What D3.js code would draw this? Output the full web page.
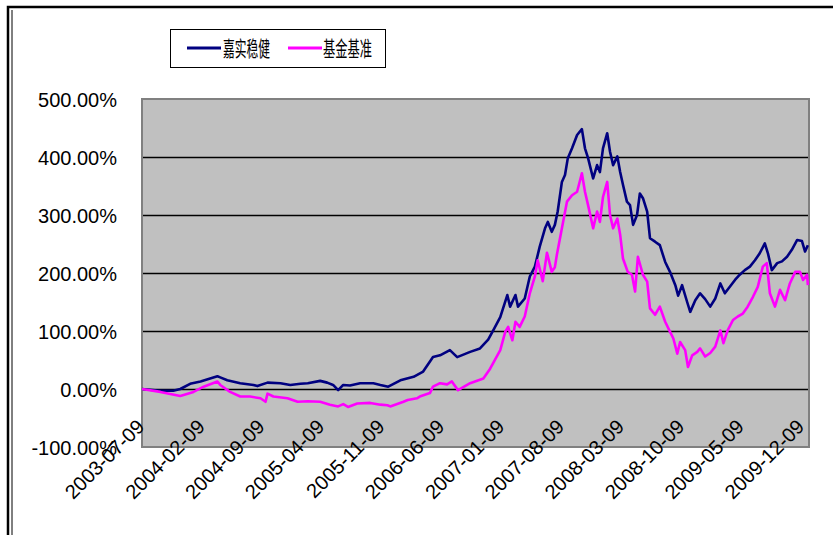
<!DOCTYPE html>
<html lang="zh">
<head>
    <meta charset="UTF-8">
    <title>嘉实稳健 vs 基金基准</title>
    <script src="https://cdnjs.cloudflare.com/ajax/libs/d3/7.8.5/d3.min.js"></script>
    <style>
        html, body { margin: 0; padding: 0; background: #fff; }
        svg { display: block; }
        .tick-label { font-family: "Liberation Sans", Arial, sans-serif; font-size: 20px; fill: #000; }
        .legend-text { font-family: "Noto Sans CJK SC", sans-serif; font-size: 21px; fill: #000; }
    </style>
</head>
<body>
<div id="chart"></div>
<script>
// series names
const seriesNames = ["嘉实稳健", "基金基准"];

// 嘉实稳健 (cumulative return, %)
const fundDates = ["2003-07-09","2003-09-12","2003-10-28","2003-11-22","2003-12-27","2004-02-02","2004-03-07","2004-04-02","2004-04-12","2004-05-07",
    "2004-06-22","2004-08-08","2004-08-22","2004-09-27","2004-11-12","2004-12-17","2005-01-22","2005-02-17","2005-04-02","2005-04-27",
    "2005-05-18","2005-06-05","2005-06-23","2005-07-17","2005-08-22","2005-10-08","2005-11-02","2005-11-30","2006-01-12","2006-02-28",
    "2006-04-03","2006-05-08","2006-06-02","2006-07-07","2006-08-02","2006-09-17","2006-10-22","2006-11-20","2006-12-08","2007-01-02",
    "2007-01-27","2007-02-06","2007-02-25","2007-03-06","2007-03-30","2007-04-17","2007-05-05","2007-05-22","2007-06-10","2007-06-20",
    "2007-07-04","2007-07-15","2007-07-25","2007-08-09","2007-08-20","2007-08-30","2007-09-14","2007-10-02","2007-10-19","2007-10-30",
    "2007-11-10","2007-11-28","2007-12-12","2007-12-22","2008-01-02","2008-01-17","2008-01-27","2008-02-07","2008-02-22","2008-03-03",
    "2008-03-13","2008-03-27","2008-04-07","2008-04-18","2008-05-02","2008-05-12","2008-05-23","2008-06-07","2008-06-17","2008-07-05",
    "2008-07-22","2008-08-10","2008-08-27","2008-09-15","2008-09-25","2008-10-09","2008-10-27","2008-11-07","2008-11-25","2008-12-12",
    "2008-12-30","2009-01-17","2009-02-04","2009-02-22","2009-03-10","2009-03-27","2009-04-15","2009-05-02","2009-05-20","2009-06-07",
    "2009-06-25","2009-07-12","2009-07-30","2009-08-10","2009-08-24","2009-09-12","2009-09-29","2009-10-17","2009-11-03","2009-11-22",
    "2009-12-09","2009-12-20","2009-12-30"];
const fundValues = [0,-3,-3,0,9,13,18,22,20,15,
    10,7,5,11,10,7,9,10,14,11,
    7,-2,7,6,10,10,7,4,15,21,
    30,55,58,67,55,64,70,85,101,124,
    162,142,162,142,156,194,211,245,277,288,
    271,283,306,357,369,398,415,438,448,415,
    398,363,386,374,415,441,409,386,401,374,
    352,323,317,283,300,337,329,306,260,254,
    248,219,202,179,161,179,150,133,153,165,
    155,142,156,182,165,176,188,197,205,211,
    222,234,251,234,205,217,220,228,240,257,
    255,237,248];

// 基金基准 (benchmark, %)
const benchDates = ["2003-07-09","2003-09-12","2003-11-22","2004-01-08","2004-02-13","2004-04-02","2004-04-12","2004-05-17","2004-06-22","2004-07-27",
    "2004-09-02","2004-09-20","2004-09-27","2004-10-18","2004-12-07","2005-01-12","2005-02-17","2005-04-02","2005-05-07","2005-06-05",
    "2005-06-23","2005-07-10","2005-08-12","2005-09-27","2005-11-02","2005-11-27","2005-12-07","2006-01-23","2006-02-07","2006-03-12",
    "2006-03-22","2006-04-27","2006-05-08","2006-06-02","2006-06-27","2006-07-14","2006-08-05","2006-09-17","2006-11-03","2006-11-27",
    "2007-01-02","2007-01-20","2007-01-30","2007-02-14","2007-02-25","2007-03-12","2007-03-30","2007-04-17","2007-05-05","2007-05-15",
    "2007-06-02","2007-06-17","2007-07-04","2007-07-15","2007-07-22","2007-08-09","2007-08-27","2007-09-14","2007-10-02","2007-10-19",
    "2007-10-30","2007-11-10","2007-11-28","2007-12-12","2007-12-22","2008-01-02","2008-01-17","2008-01-27","2008-02-07","2008-02-22",
    "2008-03-03","2008-03-13","2008-03-30","2008-04-14","2008-04-25","2008-05-05","2008-05-23","2008-06-07","2008-06-17","2008-07-05",
    "2008-07-22","2008-08-10","2008-08-27","2008-09-08","2008-09-22","2008-10-02","2008-10-20","2008-10-30","2008-11-14","2008-12-02",
    "2008-12-12","2008-12-30","2009-01-17","2009-02-04","2009-02-22","2009-03-05","2009-03-20","2009-04-08","2009-04-25","2009-05-13",
    "2009-05-30","2009-06-18","2009-07-05","2009-07-23","2009-08-06","2009-08-17","2009-09-04","2009-09-22","2009-10-10","2009-10-27",
    "2009-11-15","2009-12-02","2009-12-13","2009-12-27","2009-12-30"];
const benchValues = [0,-5,-12,-5,4,13,7,-5,-13,-13,
    -16,-22,-8,-13,-16,-22,-21,-22,-27,-30,
    -26,-31,-25,-24,-27,-28,-30,-22,-19,-16,
    -13,-7,4,10,8,13,-2,10,18,35,
    67,99,107,84,116,107,125,165,194,222,
    186,235,202,210,231,277,323,334,340,372,
    340,317,277,306,288,331,357,300,277,294,
    266,225,202,197,168,228,197,185,139,128,
    142,116,99,87,61,81,67,38,58,64,
    70,56,62,73,101,79,101,119,125,130,
    142,159,176,211,217,165,142,171,153,182,
    202,202,188,197,179];

// axis labels
const xTickLabels = ["2003-07-09","2004-02-09","2004-09-09","2005-04-09","2005-11-09","2006-06-09",
    "2007-01-09","2007-08-09","2008-03-09","2008-10-09","2009-05-09","2009-12-09"];
const yTicks = [-100, 0, 100, 200, 300, 400, 500];

const W = 833, H = 535;
const plot = { left: 142, top: 99, right: 809, bottom: 447 };
const parse = d3.timeParse("%Y-%m-%d");

const svg = d3.select("#chart").append("svg")
    .attr("width", W).attr("height", H);

// chart frame (double border on the left/top, cut at the right/bottom)
svg.append("rect")
    .attr("x", 8).attr("y", 7).attr("width", W + 10).attr("height", H + 10)
    .attr("fill", "#fff").attr("stroke", "#000").attr("stroke-width", 2.5);
svg.append("line")
    .attr("x1", 12).attr("x2", 12).attr("y1", 10).attr("y2", H)
    .attr("stroke", "#000").attr("stroke-width", 1);

const x = d3.scaleTime()
    .domain([parse("2003-07-09"), parse("2010-01-03")])
    .range([plot.left, plot.right]);
const y = d3.scaleLinear()
    .domain([-100, 500])
    .range([plot.bottom, plot.top]);

// plot area
svg.append("rect")
    .attr("x", plot.left).attr("y", plot.top)
    .attr("width", plot.right - plot.left).attr("height", plot.bottom - plot.top)
    .attr("fill", "#c0c0c0");

// gridlines
svg.append("g")
    .attr("transform", `translate(${plot.left},0)`)
    .call(d3.axisLeft(y).tickValues(yTicks.filter(d => d > -100 && d < 500))
        .tickSize(-(plot.right - plot.left)).tickFormat(""))
    .call(g => g.select(".domain").remove())
    .call(g => g.selectAll("line").attr("stroke", "#000").attr("stroke-width", 1.3));

// plot border
svg.append("rect")
    .attr("x", plot.left).attr("y", plot.top)
    .attr("width", plot.right - plot.left).attr("height", plot.bottom - plot.top)
    .attr("fill", "none").attr("stroke", "#808080").attr("stroke-width", 2);

// y axis labels
svg.append("g")
    .attr("transform", "translate(117,0)")
    .call(d3.axisLeft(y).tickValues(yTicks).tickSize(0).tickPadding(0)
        .tickFormat(d => d.toFixed(2) + "%"))
    .call(g => g.select(".domain").remove())
    .call(g => g.selectAll("text").attr("class", "tick-label").attr("dy", "0.36em"));

// series
const line = d3.line()
    .x(d => x(d[0]))
    .y(d => y(d[1]));

const fund = fundDates.map((d, i) => [parse(d), fundValues[i]]);
const bench = benchDates.map((d, i) => [parse(d), benchValues[i]]);

svg.append("path").datum(fund)
    .attr("d", line).attr("fill", "none")
    .attr("stroke", "#000080").attr("stroke-width", 2.6).attr("stroke-linejoin", "round");
svg.append("path").datum(bench)
    .attr("d", line).attr("fill", "none")
    .attr("stroke", "#ff00ff").attr("stroke-width", 2.6).attr("stroke-linejoin", "round");

// x axis labels (rotated, they overlap the plot bottom like the original)
svg.append("g")
    .attr("transform", "translate(0,428)")
    .call(d3.axisBottom(x).tickValues(xTickLabels.map(parse)).tickSize(0)
        .tickFormat(d3.timeFormat("%Y-%m-%d")))
    .call(g => g.select(".domain").remove())
    .call(g => g.selectAll("text")
        .attr("class", "tick-label")
        .attr("x", 0).attr("y", 0).attr("dy", null)
        .attr("transform", "translate(3,0) rotate(-45)")
        .style("text-anchor", "end"));

// legend
const legend = svg.append("g");
legend.append("rect")
    .attr("x", 170.5).attr("y", 29.5).attr("width", 215).attr("height", 38)
    .attr("fill", "#fff").attr("stroke", "#000").attr("stroke-width", 1);

const legendItems = [
    { name: seriesNames[0], color: "#000080", x1: 187, x2: 221, tx: 223, tw: 47 },
    { name: seriesNames[1], color: "#ff00ff", x1: 288, x2: 322, tx: 323, tw: 49 }
];
legendItems.forEach(it => {
    legend.append("line")
        .attr("x1", it.x1).attr("x2", it.x2).attr("y1", 48).attr("y2", 48)
        .attr("stroke", it.color).attr("stroke-width", 3);
    legend.append("text")
        .attr("class", "legend-text")
        .attr("x", it.tx).attr("y", 56)
        .attr("textLength", it.tw).attr("lengthAdjust", "spacingAndGlyphs")
        .text(it.name);
});
</script>
</body>
</html>
